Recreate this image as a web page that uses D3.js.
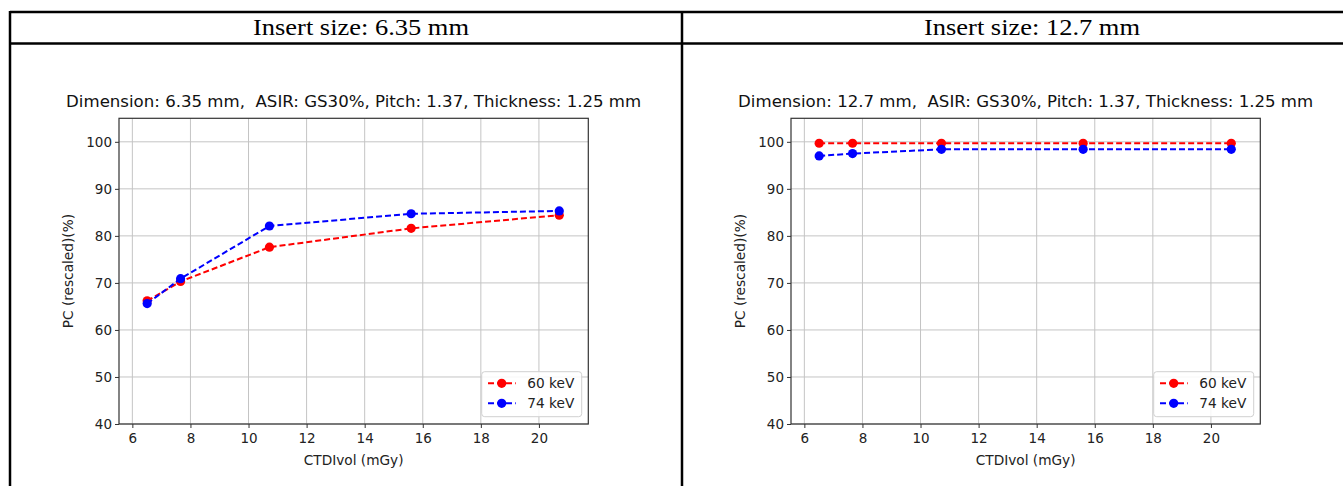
<!DOCTYPE html>
<html>
<head>
<meta charset="utf-8">
<script src="https://cdn.jsdelivr.net/npm/d3@7"></script>
<style>
  html, body { margin: 0; padding: 0; background: #fff; }
  svg { display: block; }
  text { white-space: pre; }
</style>
</head>
<body>
<svg id="chart"></svg>
<script>
// data
var ctdi = [6.51, 7.66, 10.72, 15.6, 20.7];
var pc635_60 = [66.2, 70.3, 77.6, 81.6, 84.4];
var pc635_74 = [65.6, 70.9, 82.1, 84.7, 85.3];
var pc127_60 = [99.7, 99.7, 99.7, 99.7, 99.7];
var pc127_74 = [97.0, 97.5, 98.4, 98.4, 98.4];
var xTicks = [6, 8, 10, 12, 14, 16, 18, 20];
var yTicks = [40, 50, 60, 70, 80, 90, 100];
var headers = ["Insert size: 6.35 mm", "Insert size: 12.7 mm"];
var titles = ["Dimension: 6.35 mm,  ASIR: GS30%, Pitch: 1.37, Thickness: 1.25 mm",
              "Dimension: 12.7 mm,  ASIR: GS30%, Pitch: 1.37, Thickness: 1.25 mm"];
var seriesNames = ["60 keV", "74 keV"];
var seriesColors = ["#ff0000", "#0000ff"];

var W = 1343, H = 486;
var svg = d3.select("#chart").attr("width", W).attr("height", H);
svg.append("rect").attr("width", W).attr("height", H).attr("fill", "#fff");

// table frame
var tbl = svg.append("g").attr("stroke", "#000").attr("stroke-width", 2.5);
tbl.append("line").attr("x1", 10).attr("x2", W + 5).attr("y1", 12).attr("y2", 12);
tbl.append("line").attr("x1", 10).attr("x2", W + 5).attr("y1", 43.5).attr("y2", 43.5);
tbl.append("line").attr("x1", 10).attr("x2", 10).attr("y1", 11).attr("y2", H + 5);
tbl.append("line").attr("x1", 682).attr("x2", 682).attr("y1", 11).attr("y2", H + 5);

var cellCenters = [361, 1032];
svg.selectAll("text.hdr").data(headers).enter().append("text")
  .attr("class", "hdr")
  .attr("x", function(d, i) { return cellCenters[i]; })
  .attr("y", 35)
  .attr("text-anchor", "middle")
  .attr("font-family", "Liberation Serif, Times New Roman, serif")
  .attr("font-size", 23)
  .attr("textLength", 216).attr("lengthAdjust", "spacingAndGlyphs")
  .attr("fill", "#000")
  .text(function(d) { return d; });

var font = "DejaVu Sans, sans-serif";

function panel(px, title, s60, s74) {
  var left = px, right = px + 469.3, top = 118.3, bottom = 424;
  var x = d3.scaleLinear().domain([5.54, 21.7]).range([left, right]);
  var y = d3.scaleLinear().domain([40, 105]).range([bottom, top]);
  var g = svg.append("g");

  // grid
  g.selectAll("line.gx").data(xTicks).enter().append("line")
    .attr("x1", function(d) { return x(d); }).attr("x2", function(d) { return x(d); })
    .attr("y1", top).attr("y2", bottom)
    .attr("stroke", "#c4c4c4").attr("stroke-width", 1);
  g.selectAll("line.gy").data(yTicks).enter().append("line")
    .attr("y1", function(d) { return y(d); }).attr("y2", function(d) { return y(d); })
    .attr("x1", left).attr("x2", right)
    .attr("stroke", "#c4c4c4").attr("stroke-width", 1);

  // axes
  var xa = g.append("g").attr("transform", "translate(0," + bottom + ")")
    .call(d3.axisBottom(x).tickValues(xTicks).tickSize(4).tickPadding(4).tickSizeOuter(0));
  var ya = g.append("g").attr("transform", "translate(" + left + ",0)")
    .call(d3.axisLeft(y).tickValues(yTicks).tickSize(4).tickPadding(3).tickSizeOuter(0));
  [xa, ya].forEach(function(a) {
    a.select(".domain").remove();
    a.selectAll("line").attr("stroke", "#333");
    a.selectAll("text").attr("font-family", font).attr("font-size", 13.5).attr("fill", "#222");
  });
  xa.selectAll("text").attr("dy", "0.8em");

  // frame
  g.append("rect").attr("x", left).attr("y", top)
    .attr("width", right - left).attr("height", bottom - top)
    .attr("fill", "none").attr("stroke", "#333").attr("stroke-width", 1.2);

  // title and labels
  g.append("text").attr("x", (left + right) / 2).attr("y", 107)
    .attr("text-anchor", "middle").attr("font-family", font).attr("font-size", 16.6)
    .attr("fill", "#111").text(title);
  g.append("text").attr("x", (left + right) / 2).attr("y", 465)
    .attr("text-anchor", "middle").attr("font-family", font).attr("font-size", 13.7)
    .attr("fill", "#222").text("CTDIvol (mGy)");
  g.append("text")
    .attr("transform", "translate(" + (left - 46) + "," + ((top + bottom) / 2) + ") rotate(-90)")
    .attr("text-anchor", "middle").attr("font-family", font).attr("font-size", 13.7)
    .attr("fill", "#222").text("PC (rescaled)(%)");

  // series
  var line = d3.line().x(function(d) { return x(d[0]); }).y(function(d) { return y(d[1]); });
  [s60, s74].forEach(function(vals, k) {
    var pts = d3.zip(ctdi, vals);
    g.append("path").datum(pts).attr("d", line)
      .attr("fill", "none").attr("stroke", seriesColors[k])
      .attr("stroke-width", 2).attr("stroke-dasharray", "6,3");
    g.selectAll("circle.s" + k).data(pts).enter().append("circle")
      .attr("cx", function(d) { return x(d[0]); })
      .attr("cy", function(d) { return y(d[1]); })
      .attr("r", 4.6).attr("fill", seriesColors[k]);
  });

  // legend
  var lx = right - 106.6, ly = bottom - 52.3;
  var lg = g.append("g").attr("transform", "translate(" + lx + "," + ly + ")");
  lg.append("rect").attr("width", 100).attr("height", 45).attr("rx", 3)
    .attr("fill", "#fff").attr("fill-opacity", 0.85)
    .attr("stroke", "#d0d0d0").attr("stroke-width", 1);
  seriesNames.forEach(function(name, k) {
    var ry = 11.6 + k * 20;
    lg.append("line").attr("x1", 6.3).attr("x2", 34).attr("y1", ry).attr("y2", ry)
      .attr("stroke", seriesColors[k]).attr("stroke-width", 2).attr("stroke-dasharray", "6,3");
    lg.append("circle").attr("cx", 20).attr("cy", ry).attr("r", 4.6).attr("fill", seriesColors[k]);
    lg.append("text").attr("x", 45.6).attr("y", ry).attr("dy", "0.35em")
      .attr("font-family", font).attr("font-size", 13.7).attr("fill", "#222").text(name);
  });
}

panel(119, titles[0], pc635_60, pc635_74);
panel(791, titles[1], pc127_60, pc127_74);
</script>
</body>
</html>
